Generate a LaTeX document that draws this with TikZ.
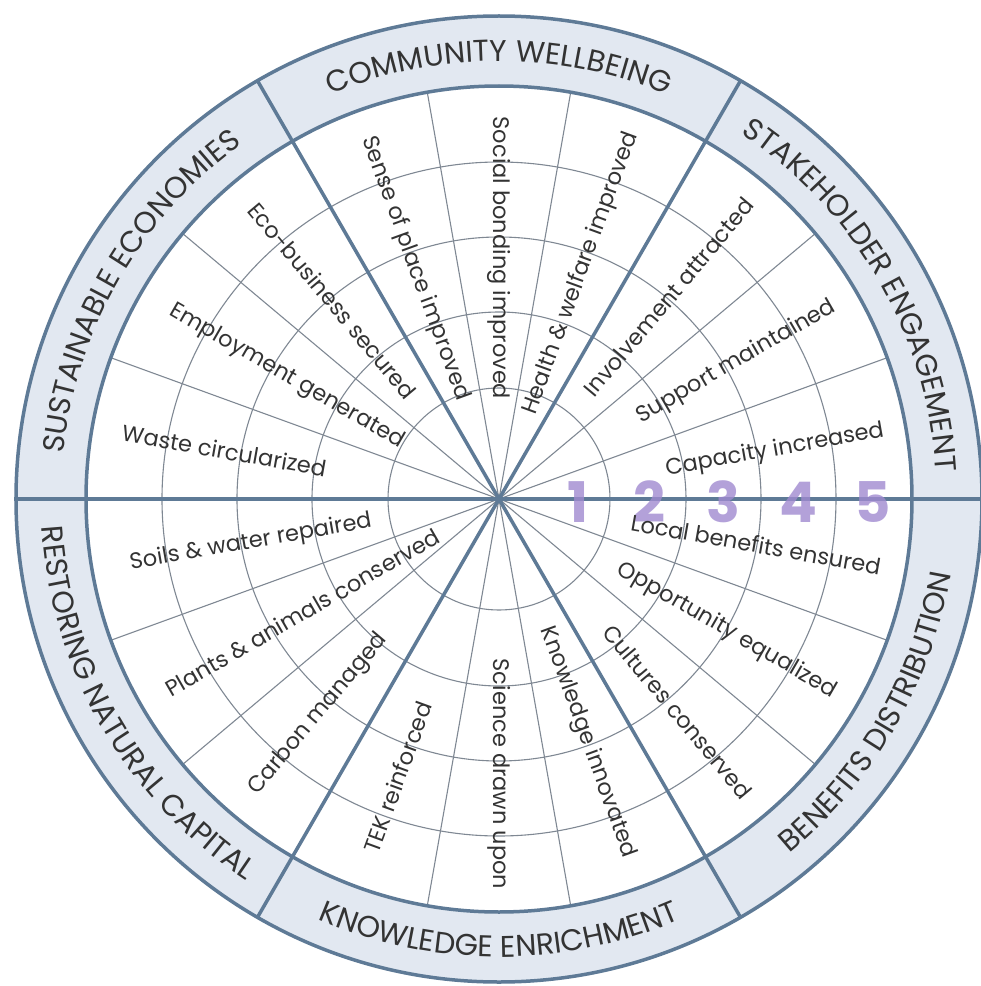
\documentclass[tikz,border=0pt]{standalone}
\usepackage{fontspec}
\setmainfont{Poppins}
\usetikzlibrary{decorations.text}
\definecolor{rim}{HTML}{5E7A96}
\definecolor{bandfill}{HTML}{E2E8F1}
\definecolor{gridline}{HTML}{7F8893}
\definecolor{txt}{HTML}{333333}
\definecolor{rank}{HTML}{A08AD0}
\begin{document}
\begin{tikzpicture}[x=1pt, y=1pt,
    thick line/.style={rim, line width=3.5pt},
    thin line/.style={gridline, line width=1.1pt},
    item/.style={txt, inner sep=0pt, font=\fontsize{22.5}{26}\selectfont},
    level/.style={rank, opacity=.8, inner sep=0pt, font=\fontsize{56}{60}\selectfont\bfseries},
    band text/.style={decorate, decoration={text along path, text align=center, text color=txt,
        text={|\fontsize{30}{34}\selectfont|#1}}}]
\useasboundingbox (-499,-487) rectangle (482,499);
\coordinate (O) at (0,0);

% outer band
\fill[bandfill, even odd rule] (O) circle (483) (O) circle (413);

% rings and thin spokes
\foreach \r in {111,187,262,337}
    \draw[thin line] (O) circle (\r);
\foreach \a in {0,60,...,300}
{
    \draw[thin line] (O) -- (\a+20:413);
    \draw[thin line] (O) -- (\a+40:413);
}

% thick spokes and band edges
\foreach \a in {0,60,...,300}
    \draw[thick line] (O) -- (\a:483);
\draw[thick line] (O) circle (413);
\draw[thick line] (O) circle (483);

% scale numbers
\foreach \n/\x in {1/79,2/150,3/224,4/299,5/374}
    \node[level] (n\n) at (\x,-3) {\n};

% radial items
\foreach \a/\r/\t in {10/280/Capacity increased, 30/274/Support maintained,
    50/264/Involvement attracted, 70/240/Health \& welfare improved,
    90/241/Social bonding improved, 110/245/Sense of place improved,
    130/259/Eco-business secured, 150/245/Employment generated,
    170/279/Waste circularized, 190/252/Soils \& water repaired,
    210/227/Plants \& animals conserved, 230/281/Carbon managed,
    250/296/TEK reinforced, 270/275/Science drawn upon,
    290/259/Knowledge innovated, 310/278/Cultures conserved,
    330/263/Opportunity equalized, 350/261/Local benefits ensured}
{
    \pgfmathsetmacro\rot{abs(cos(\a))<0.01 ? -90 : (cos(\a)>0 ? \a : \a-180)}
    \node[item, rotate=\rot] (i\a) at (\a:\r) {\t};
}

% band titles
\path[band text={COMMUNITY WELLBEING}] (125:438) arc[start angle=125, end angle=55, radius=438];
\path[band text={STAKEHOLDER ENGAGEMENT}] (65:438) arc[start angle=65, end angle=-5, radius=438];
\path[band text={SUSTAINABLE ECONOMIES}] (185:438) arc[start angle=185, end angle=115, radius=438];
\path[band text={RESTORING NATURAL CAPITAL}] (175:458) arc[start angle=175, end angle=245, radius=458];
\path[band text={KNOWLEDGE ENRICHMENT}] (235:458) arc[start angle=235, end angle=305, radius=458];
\path[band text={BENEFITS DISTRIBUTION}] (295:458) arc[start angle=295, end angle=365, radius=458];
\end{tikzpicture}
\end{document}
